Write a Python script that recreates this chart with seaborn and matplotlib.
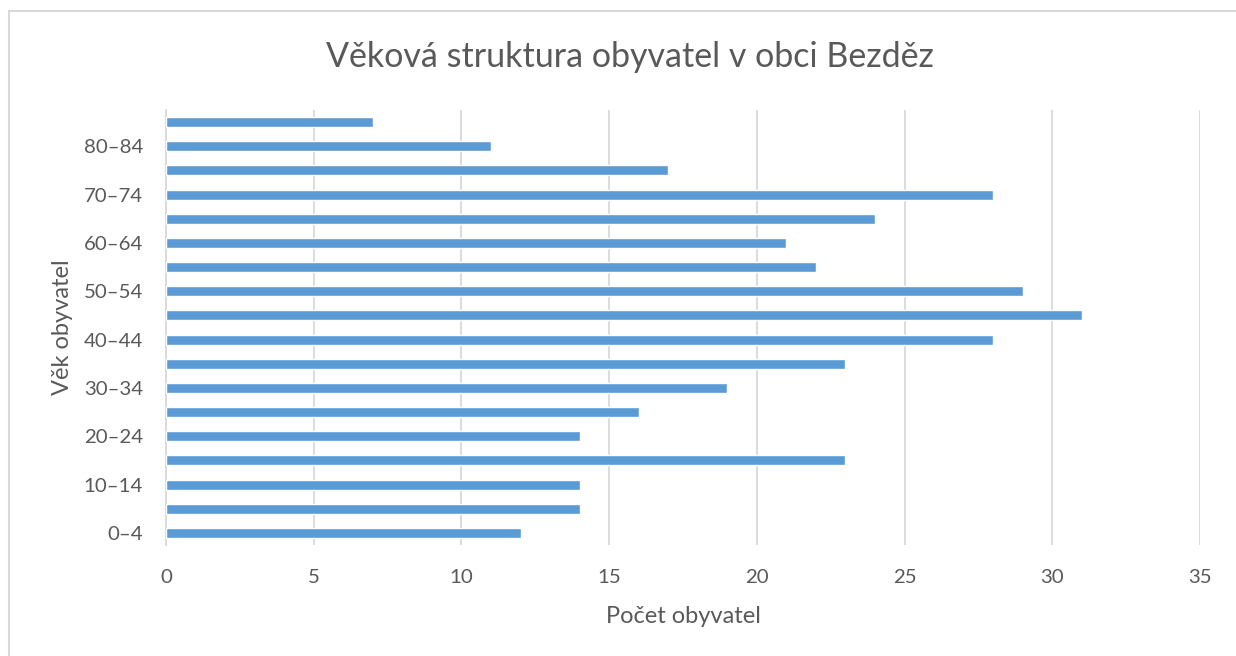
import matplotlib
matplotlib.use("Agg")
import matplotlib.pyplot as plt
import seaborn as sns
import pandas as pd
from matplotlib.patches import Rectangle

# data (bottom to top as in the chart)
age_groups = ["0–4", "5–9", "10–14", "15–19", "20–24", "25–29", "30–34", "35–39",
              "40–44", "45–49", "50–54", "55–59", "60–64", "65–69", "70–74",
              "75–79", "80–84", "85+"]
counts = [12, 14, 14, 23, 14, 16, 19, 23, 28, 31, 29, 22, 21, 24, 28, 17, 11, 7]
x_ticks = [0, 5, 10, 15, 20, 25, 30, 35]

TEXT = "#595959"
GRID = "#d9d9d9"
BAR = "#5b9bd5"

sns.set_theme(style="white")
plt.rcParams["font.family"] = ["Lato", "DejaVu Sans"]

df = pd.DataFrame({"age": age_groups, "count": counts})
order = age_groups[::-1]  # seaborn puts first category on top

fig = plt.figure(figsize=(12.36, 6.56), dpi=100)
ax = fig.add_axes([166 / 1236, 111 / 656, (1200 - 166) / 1236, (546 - 111) / 656])

sns.barplot(data=df, x="count", y="age", order=order, orient="h",
            color=BAR, saturation=1, width=0.42, ax=ax, zorder=3)

ax.set_xlim(0, 35)
ax.set_xticks(x_ticks)
ax.set_xticklabels([str(t) for t in x_ticks], fontsize=14.7, color=TEXT)
ax.tick_params(axis="x", length=0, pad=17)
ax.tick_params(axis="y", length=0, pad=16.5)

ylabels = [lab if i % 2 == 0 else "" for i, lab in enumerate(age_groups)][::-1]
ax.set_yticks(range(len(order)))
ax.set_yticklabels(ylabels, fontsize=14.7, color=TEXT)

ax.xaxis.grid(True, color=GRID, lw=1.3, zorder=0)
ax.yaxis.grid(False)
for s in ["top", "right", "bottom"]:
    ax.spines[s].set_visible(False)
ax.spines["left"].set_color(GRID)
ax.spines["left"].set_linewidth(1.3)

ax.set_xlabel("Počet obyvatel", fontsize=17, color=TEXT, labelpad=15)
ax.set_ylabel("Věk obyvatel", fontsize=17, color=TEXT, labelpad=8)

fig.text(630 / 1236, 1 - 57 / 656, "Věková struktura obyvatel v obci Bezděz",
         fontsize=24.5, color=TEXT, ha="center", va="center")

# chart frame
fig.patches.append(Rectangle((9 / 1236, -0.1), 1.2, 1.1 - 11 / 656,
                             transform=fig.transFigure, fill=False,
                             edgecolor=GRID, lw=1.5))

fig.savefig("out.png", dpi=100, facecolor="white")
